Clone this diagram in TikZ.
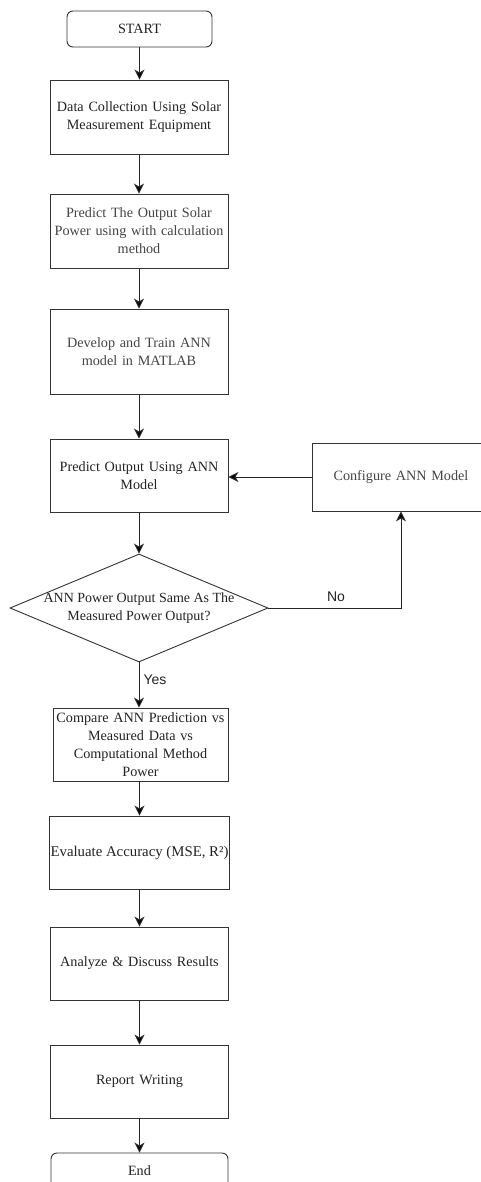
\documentclass[tikz,border=0pt]{standalone}
\usepackage{fontspec}
\setmainfont{Liberation Serif}
\newfontfamily\labelfont{Liberation Sans}
\usetikzlibrary{arrows.meta,shapes.geometric}
\definecolor{boxline}{HTML}{333333}
\definecolor{txtdark}{HTML}{222222}
\definecolor{txtgray}{HTML}{444444}
\tikzset{
  procbox/.style={draw=boxline, line width=0.9pt, rectangle, align=center, inner sep=1pt,
    text=txtdark, font=\fontsize{14.2}{18}\selectfont},
  termbox/.style={procbox, rounded corners=6pt},
  graytext/.style={text=txtgray},
  flow/.style={draw=black!85, line width=1pt, -{Stealth[length=10pt,width=10pt,inset=3pt,fill=black]}},
  branchlbl/.style={font=\labelfont\fontsize{14}{16}\selectfont, text=txtdark, inner sep=0pt}
}
\begin{document}
\begin{tikzpicture}[x=1pt,y=-1pt]
\useasboundingbox (0,0) rectangle (480,1182);
\node[termbox, minimum width=145pt, minimum height=36pt] (start) at (139.5,29) {START};
\node[procbox, minimum width=178pt, minimum height=74pt, text width=176pt] (data) at (139,117) {Data Collection Using Solar\\Measurement Equipment};
\node[procbox, graytext, minimum width=178pt, minimum height=74pt, text width=176pt] (pred) at (139,231) {Predict The Output Solar\\Power using with calculation\\method};
\node[procbox, graytext, minimum width=178pt, minimum height=85pt, text width=176pt] (dev) at (139,351.5) {Develop and Train ANN\\model in MATLAB};
\node[procbox, minimum width=178pt, minimum height=73pt, text width=176pt] (po) at (139,475.5) {Predict Output Using ANN\\Model};
\node[procbox, graytext, minimum width=178pt, minimum height=68pt, text width=176pt] (cfg) at (401,477) {Configure ANN Model};
\node[draw=boxline, line width=0.9pt, diamond, aspect=2.39, minimum width=258pt, minimum height=108pt, inner sep=0pt] (dec) at (139,608) {};
\node[align=center, text=txtdark, font=\fontsize{14}{18}\selectfont, inner sep=0pt] (dectext) at (dec.center) {ANN Power Output Same As The\\Measured Power Output?};
\node[procbox, minimum width=175pt, minimum height=73pt, text width=173pt] (cmp) at (140.5,744.5) {Compare ANN Prediction vs\\Measured Data vs\\Computational Method\\Power};
\node[procbox, minimum width=177pt, minimum height=73pt, font=\fontsize{14.8}{18}\selectfont] (eval) at (139.5,852.5) {Evaluate Accuracy (MSE, R²)};
\node[procbox, minimum width=177pt, minimum height=73pt, text width=176pt] (ana) at (139.5,963.5) {Analyze \& Discuss Results};
\node[procbox, minimum width=177pt, minimum height=73pt, text width=176pt] (rep) at (139.5,1081.5) {Report Writing};
\node[termbox, minimum width=177pt, minimum height=36pt] (end) at (139.5,1171) {End};

\draw[flow] (start.south) -- (start.south |- data.north);
\draw[flow] (data.south) -- (data.south |- pred.north);
\draw[flow] (pred.south) -- (pred.south |- dev.north);
\draw[flow] (dev.south) -- (dev.south |- po.north);
\draw[flow] (po.south) -- (dec.north);
\draw[flow] (dec.south) -- (dec.south |- cmp.north);
\draw[flow] (cmp.south -| dec.south) ++(0.5,0) coordinate (cmpout) -- (cmpout |- eval.north);
\draw[flow] (eval.south) -- (ana.north);
\draw[flow] (ana.south) -- (rep.north);
\draw[flow] (rep.south) -- (end.north);
\draw[flow] (dec.east) -| (cfg.south);
\draw[flow] (cfg.west) -- (cfg.west -| po.east);
\node[branchlbl] (nolbl) at (336,597) {No};
\node[branchlbl] (yeslbl) at (155,680) {Yes};
\end{tikzpicture}
\end{document}
